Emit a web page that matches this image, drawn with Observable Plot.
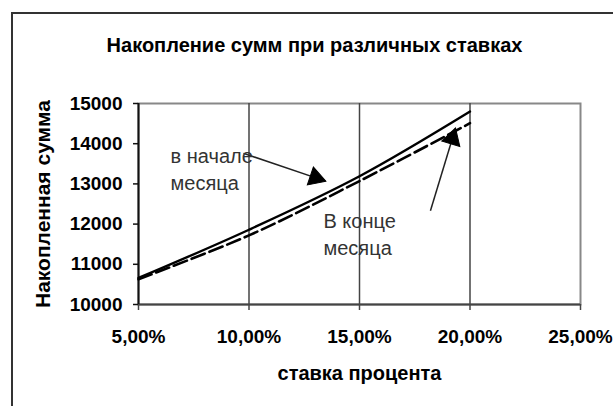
<!DOCTYPE html>
<html>
<head>
<meta charset="utf-8">
<script src="https://cdn.jsdelivr.net/npm/d3@7"></script>
<script src="https://cdn.jsdelivr.net/npm/@observablehq/plot@0.6"></script>
<style>
  html, body { margin: 0; padding: 0; background: #fff; }
  #wrap { position: relative; width: 613px; height: 406px; overflow: hidden; }
  #frame { position: absolute; left: 11px; top: 12px; width: 700px; height: 500px;
           border-left: 2px solid #333; border-top: 2px solid #333; }
  #wrap svg { position: absolute; left: 0; top: 0; }
</style>
</head>
<body>
<div id="wrap"><div id="frame"></div></div>
<script>
// ---- data ----
const rates = [0.05, 0.10, 0.15, 0.20];
const beginOfMonth = [10660, 11860, 13190, 14800];   // solid line: "в начале месяца"
const endOfMonth   = [10630, 11720, 13070, 14510];   // dashed line: "В конце месяца"
const xTicks = [0.05, 0.10, 0.15, 0.20, 0.25];
const yTicks = [10000, 11000, 12000, 13000, 14000, 15000];
const gridRates = [0.10, 0.15, 0.20];
const title = "Накопление сумм при различных ставках";
const xTitle = "ставка процента";
const yTitle = "Накопленная сумма";
// annotations: label text and anchor position (rate, sum)
const noteLabels = ["в начале\nмесяца", "В конце\nмесяца"];
const noteX = [0.0645, 0.1337];
const noteY = [13390, 11780];
// arrows: start (rate, sum) -> tip (rate, sum)
const arrowX1 = [0.0975, 0.1821];
const arrowY1 = [13760, 12330];
const arrowX2 = [0.1346, 0.1934];
const arrowY2 = [13070, 14380];

const solid = rates.map((r, i) => ({rate: r, sum: beginOfMonth[i]}));
const dashed = rates.map((r, i) => ({rate: r, sum: endOfMonth[i]}));
const notes = noteLabels.map((t, i) => ({text: t, rate: noteX[i], sum: noteY[i]}));
const arrows = arrowX1.map((x, i) => ({x1: x, y1: arrowY1[i], x2: arrowX2[i], y2: arrowY2[i]}));

const fmt = d => (d * 100).toFixed(2).replace(".", ",") + "%";

const base = {
  width: 613, height: 406,
  marginLeft: 138, marginRight: 33, marginTop: 103, marginBottom: 102,
  style: {fontFamily: "'Liberation Sans', Arial, sans-serif", fontSize: "19px", fontWeight: "bold", color: "#000", background: "transparent"},
  x: {domain: [0.05, 0.25]},
  y: {domain: [10000, 15000]}
};

// probe plot to get the library scales for arrowhead orientation
const probe = Plot.plot({...base, marks: [Plot.frame()]});
const sx = probe.scale("x"), sy = probe.scale("y");
const headHalf = 10.5; // distance from triangle centroid to tip (px)
const heads = arrows.map(a => {
  const px1 = sx.apply(a.x1), py1 = sy.apply(a.y1);
  const px2 = sx.apply(a.x2), py2 = sy.apply(a.y2);
  const dx = px2 - px1, dy = py2 - py1, L = Math.hypot(dx, dy);
  const cx = px2 - dx / L * headHalf, cy = py2 - dy / L * headHalf;
  return {rate: sx.invert(cx), sum: sy.invert(cy), angle: Math.atan2(dx, -dy) * 180 / Math.PI};
});

const chart = Plot.plot({
  ...base,
  marks: [
    Plot.frame({stroke: "#888", strokeWidth: 2}),
    Plot.gridX(gridRates, {stroke: "#444", strokeOpacity: 1, strokeWidth: 1.5}),
    Plot.ruleY([10000], {stroke: "#444", strokeWidth: 2}),
    Plot.ruleX([0.05], {stroke: "#111", strokeWidth: 2}),
    Plot.axisX(xTicks, {tickFormat: fmt, tickSize: 6, tickPadding: 19, stroke: "#444", strokeWidth: 1.5, label: null, fontWeight: "bold", fontSize: 19}),
    Plot.axisY(yTicks, {tickFormat: d => String(d), tickSize: 5, tickPadding: 11, stroke: "#111", strokeWidth: 1.5, label: null, fontWeight: "bold", fontSize: 19}),
    Plot.line(dashed, {x: "rate", y: "sum", stroke: "#000", strokeWidth: 2.6, strokeDasharray: "14,5", curve: "catmull-rom"}),
    Plot.line(solid, {x: "rate", y: "sum", stroke: "#000", strokeWidth: 2.4, curve: "catmull-rom"}),
    Plot.link(arrows, {x1: "x1", y1: "y1", x2: "x2", y2: "y2", stroke: "#222", strokeWidth: 1.5}),
    Plot.dot(heads, {x: "rate", y: "sum", symbol: "triangle", r: 7, fill: "#000", stroke: "#000", strokeWidth: 1, rotate: "angle"}),
    Plot.text(notes, {x: "rate", y: "sum", text: "text", textAnchor: "start", lineAnchor: "middle", lineHeight: 1.35, fill: "#333", fontWeight: "normal", fontSize: 20}),
    Plot.text([title], {text: d => d, frameAnchor: "top", dx: -45, dy: -66, fontSize: 20, fontWeight: "bold"}),
    Plot.text([xTitle], {text: d => d, frameAnchor: "bottom", dy: 75, fontSize: 20, fontWeight: "bold"}),
    Plot.text([yTitle], {text: d => d, frameAnchor: "left", textAnchor: "middle", dx: -95, rotate: -90, fontSize: 21, fontWeight: "bold"})
  ]
});
document.getElementById("wrap").appendChild(chart);
</script>
</body>
</html>
